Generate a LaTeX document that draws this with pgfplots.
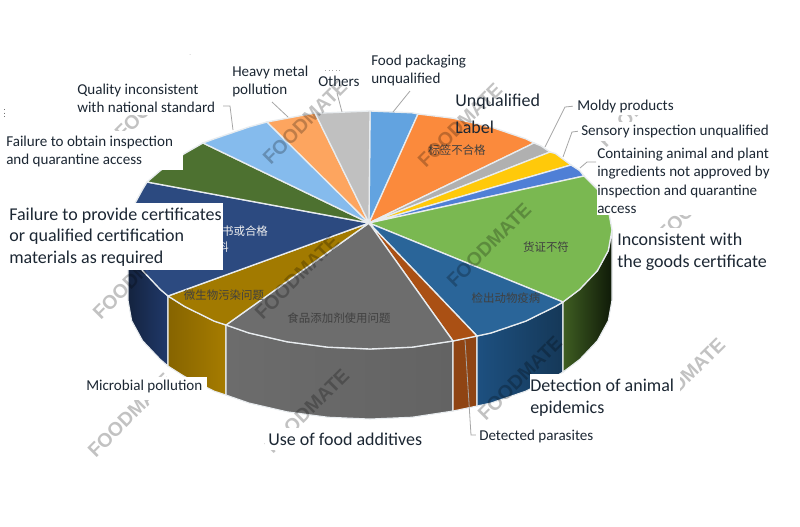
\documentclass[border=0pt]{standalone}
\usepackage{fontspec}
\setmainfont{Carlito}
\newfontfamily\cjk{Noto Sans CJK SC}
\newfontfamily\wm{Liberation Sans}[BoldFont={Liberation Sans Bold}]
\usepackage{pgfplots}
\pgfplotsset{compat=1.18}
\definecolor{txt}{HTML}{1C2733}
\definecolor{lead}{HTML}{A6A6A6}
\definecolor{edge}{HTML}{E8ECEF}
\definecolor{c404040}{HTML}{404040}
\definecolor{cF0F0F0}{HTML}{F0F0F0}
% side walls
\definecolor{S1}{HTML}{14233F}\definecolor{S2}{HTML}{20396A}
\definecolor{S3}{HTML}{866400}\definecolor{S4}{HTML}{A67C00}
\definecolor{S5}{HTML}{6C6C6C}\definecolor{S6}{HTML}{636363}
\definecolor{S7}{HTML}{8F4413}
\definecolor{S8}{HTML}{1D5080}\definecolor{S9}{HTML}{153858}
\definecolor{S10}{HTML}{3F5E22}\definecolor{S11}{HTML}{0F1A08}
% top face
\definecolor{C1}{HTML}{62A3E0}\definecolor{C2}{HTML}{FB8A3C}\definecolor{C3}{HTML}{B0B0B0}
\definecolor{C4}{HTML}{FFC90A}\definecolor{C5}{HTML}{4F7FD6}\definecolor{C6}{HTML}{7AB851}
\definecolor{C7}{HTML}{2A6599}\definecolor{C8}{HTML}{AA5014}\definecolor{C9}{HTML}{6D6D6D}
\definecolor{C10}{HTML}{A27A00}\definecolor{C11}{HTML}{2C4A80}\definecolor{C12}{HTML}{4D7130}
\definecolor{C13}{HTML}{85BBED}\definecolor{C14}{HTML}{FDA55F}\definecolor{C15}{HTML}{C0C0C0}
\newcommand\lab[4]{\node[anchor=base west,inner sep=0pt,font=\fontsize{#3}{#3}\selectfont,text=txt] at (axis cs:#1,#2) {#4};}
\newcommand\zh[4]{\node[inner sep=0pt,font=\cjk\fontsize{8.6}{9}\selectfont,text=#3] at (axis cs:#1,#2) {#4};}
\newcommand\wmk[2]{\node[inner sep=0pt,rotate=45,text=black,text opacity=.24,font=\wm\bfseries\fontsize{14.6}{15}\selectfont] at (axis cs:#1,#2) {FOODMATE};}
\newcommand\wbox[4]{\addplot[fill=white,draw=none] coordinates {(#1,#2) (#3,#2) (#3,#4) (#1,#4)} -- cycle;}
\begin{document}
\begin{tikzpicture}
\begin{axis}[scale only axis,width=600pt,height=394.5pt,xmin=0,xmax=800,ymin=0,ymax=526,y dir=reverse,axis lines=none,clip=false]
% background
\addplot[fill=white,draw=none] coordinates {(0,0) (800,0) (800,526) (0,526)} -- cycle;

% side walls (top arc, then the arc 70 px lower)
\addplot[left color=S1,right color=S2,draw=edge,line width=.8pt] coordinates {(128,230) (131.7,250.7) (142.6,270.7) (160.4,289.5) (168,296) (168,366) (160.4,359.5) (142.6,340.7) (131.7,320.7) (128,300)} -- cycle;
\addplot[left color=S3,right color=S4,draw=edge,line width=.8pt] coordinates {(168,296) (184.6,306.5) (214.4,321.2) (226,325) (226,395) (214.4,391.2) (184.6,376.5) (168,366)} -- cycle;
\addplot[left color=S5,right color=S6,draw=edge,line width=.8pt] coordinates {(226,325) (249,333) (287.2,341.8) (328,347.2) (370,349) (412,347.2) (453,341) (453,411) (412,417.2) (370,419) (328,417.2) (287.2,411.8) (249,403) (226,395)} -- cycle;
\addplot[fill=S7,draw=edge,line width=.8pt] coordinates {(453,341) (477,336) (477,406) (453,411)} -- cycle;
\addplot[left color=S8,right color=S9,draw=edge,line width=.8pt] coordinates {(477,336) (491,333) (525.6,321.2) (555.4,306.5) (563,302) (563,372) (555.4,376.5) (525.6,391.2) (491,403) (477,406)} -- cycle;
\addplot[left color=S10,right color=S11,draw=edge,line width=.8pt] coordinates {(563,302) (579.6,289.5) (597.4,270.7) (608.3,250.7) (612,230) (612,300) (608.3,320.7) (597.4,340.7) (579.6,359.5) (563,372)} -- cycle;

% top face
\addplot[fill=C1,draw=edge,line width=1pt] coordinates {(369,223) (370,111) (412,112.8) (418,114)} -- cycle;
\addplot[fill=C2,draw=edge,line width=1pt] coordinates {(369,223) (418,114) (452.8,118.2) (491,127) (525.6,138.8) (534,143)} -- cycle;
\addplot[fill=C3,draw=edge,line width=1pt] coordinates {(369,223) (534,143) (541,145.9) (550,152)} -- cycle;
\addplot[fill=C4,draw=edge,line width=1pt] coordinates {(369,223) (550,152) (555.4,153.5) (571,165)} -- cycle;
\addplot[fill=C5,draw=edge,line width=1pt] coordinates {(369,223) (571,165) (579.6,170.5) (584,176)} -- cycle;
\addplot[fill=C6,draw=edge,line width=1pt] coordinates {(369,223) (584,176) (597.4,189.3) (608.3,209.3) (612,230) (608.3,250.7) (597.4,270.7) (579.6,289.5) (563,302)} -- cycle;
\addplot[fill=C7,draw=edge,line width=1pt] coordinates {(369,223) (563,302) (555.4,306.5) (525.6,321.2) (491,333) (477,336)} -- cycle;
\addplot[fill=C8,draw=edge,line width=1pt] coordinates {(369,223) (477,336) (453,341)} -- cycle;
\addplot[fill=C9,draw=edge,line width=1pt] coordinates {(369,223) (453,341) (412,347.2) (370,349) (328,347.2) (287.2,341.8) (249,333) (226,325)} -- cycle;
\addplot[fill=C10,draw=edge,line width=1pt] coordinates {(369,223) (226,325) (214.4,321.2) (184.6,306.5) (168,296)} -- cycle;
\addplot[fill=C11,draw=edge,line width=1pt] coordinates {(369,223) (168,296) (160.4,289.5) (142.6,270.7) (131.7,250.7) (128,230) (131.7,209.3) (142.6,189.3) (147,182)} -- cycle;
\addplot[fill=C12,draw=edge,line width=1pt] coordinates {(369,223) (147,182) (160.4,170.5) (184.6,153.5) (203,143)} -- cycle;
\addplot[fill=C13,draw=edge,line width=1pt] coordinates {(369,223) (203,143) (214.4,138.8) (249,127) (267,122)} -- cycle;
\addplot[fill=C14,draw=edge,line width=1pt] coordinates {(369,223) (267,122) (287.2,118.2) (315,113)} -- cycle;
\addplot[fill=C15,draw=edge,line width=1pt] coordinates {(369,223) (315,113) (328,112.8) (370,111)} -- cycle;

% leader lines
\addplot[lead,line width=.6pt] coordinates {(393,112) (410,91)};
\addplot[lead,line width=.6pt] coordinates {(545,147) (565,107) (575,106)};
\addplot[lead,line width=.6pt] coordinates {(563,157) (572,132) (580,131)};
\addplot[lead,line width=.6pt] coordinates {(580,168) (587,162) (596,162)};
\addplot[lead,line width=.6pt] coordinates {(465,340) (471,435) (478,435)};
\addplot[lead,line width=.6pt] coordinates {(288,117) (272,102)};
\addplot[lead,line width=.6pt] coordinates {(342,112) (337,93)};
\addplot[lead,line width=.6pt] coordinates {(233,130) (230,106) (223,106)};

% slice names in Chinese
\zh{457}{150}{c404040}{标签不合格}
\zh{546}{247}{c404040}{货证不符}
\zh{506}{298}{c404040}{检出动物疫病}
\zh{339}{318}{c404040}{食品添加剂使用问题}
\zh{224}{295}{c404040}{微生物污染问题}
\zh{245}{231}{cF0F0F0}{书或合格}
\zh{223}{247}{cF0F0F0}{料}

% watermarks
\wmk{305}{122}
\wmk{460}{125}
\wmk{640}{105}
\wmk{157}{97}
\wmk{135}{277}
\wmk{297}{277}
\wmk{489}{245}
\wmk{700}{198}
\wmk{130}{415}
\wmk{307}{411}
\wmk{520}{378}
\wmk{683}{380}

% white label boxes
\wbox{5}{203}{223}{270}
\wbox{0}{131}{183}{170}
\wbox{597}{147}{776}{215}
\wbox{617}{228}{775}{274}
\wbox{530}{374}{680}{426}
\wbox{80}{377}{207}{400}
\wbox{265}{428}{425}{450}
\wbox{476}{428}{600}{445}
\wbox{573}{60}{690}{115}
\wbox{578}{122}{775}{141}
\wbox{75}{55}{222}{115}

% dotted marks
\addplot[black!55,line width=.7pt,dotted] coordinates {(4,109) (4,118)};
\addplot[black!35,line width=.7pt,dotted] coordinates {(325,70) (342,70)};

% labels
\lab{371}{65.5}{11.3}{Food packaging}
\lab{371}{83.5}{11.3}{unqualified}
\lab{455}{106}{13.5}{Unqualified}
\lab{455}{133}{13.5}{Label}
\lab{577}{110.5}{11.3}{Moldy products}
\lab{581}{135.5}{11.3}{Sensory inspection unqualified}
\lab{597}{158.5}{11.3}{Containing animal and plant}
\lab{597}{176.5}{11.3}{ingredients not approved by}
\lab{597}{195}{11.3}{inspection and quarantine}
\lab{597}{213}{11.3}{access}
\lab{617}{245.5}{13.5}{Inconsistent with}
\lab{617}{267.5}{13.5}{the goods certificate}
\lab{530}{391.5}{13.5}{Detection of animal}
\lab{530}{413.5}{13.5}{epidemics}
\lab{479}{440.5}{11.3}{Detected parasites}
\lab{268}{445.5}{13.5}{Use of food additives}
\lab{86}{390.5}{11.3}{Microbial pollution}
\lab{9}{220.5}{13.5}{Failure to provide certificates}
\lab{9}{241.5}{13.5}{or qualified certification}
\lab{9}{263.5}{13.5}{materials as required}
\lab{6}{146.5}{11.3}{Failure to obtain inspection}
\lab{6}{164.5}{11.3}{and quarantine access}
\lab{77}{94.5}{11.3}{Quality inconsistent}
\lab{77}{112.5}{11.3}{with national standard}
\lab{232}{76.5}{11.3}{Heavy metal}
\lab{232}{94.5}{11.3}{pollution}
\lab{318}{86.5}{11.3}{Others}
\end{axis}
\end{tikzpicture}
\end{document}
